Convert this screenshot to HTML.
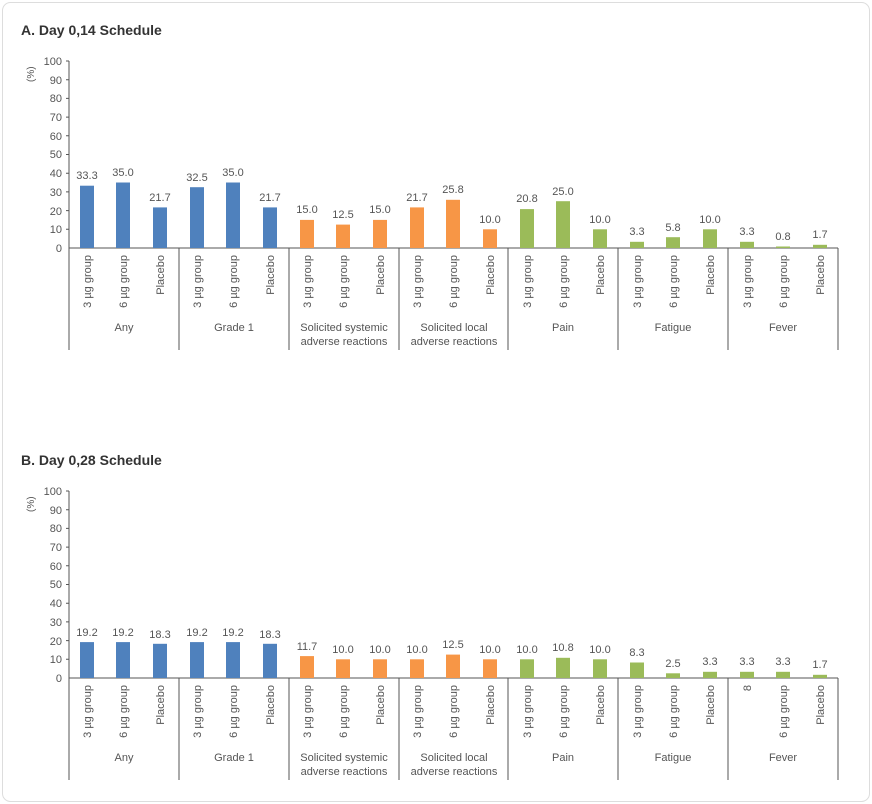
<!DOCTYPE html>
<html><head><meta charset="utf-8"><style>
html,body{margin:0;padding:0;background:#fff}
svg{display:block;font-family:"Liberation Sans",sans-serif}
.t{font-size:11px;fill:#555}
.v{font-size:11px;fill:#555;text-anchor:middle}
.c{font-size:11px;fill:#555;text-anchor:end}
.g{font-size:11px;fill:#555;text-anchor:middle}
.y{font-size:11px;fill:#555;text-anchor:end}
.b{fill:#4F81BD}.o{fill:#F79646}.gr{fill:#9BBB59}
</style></head><body>
<svg width="872" height="804" viewBox="0 0 872 804">
<rect x="2.5" y="2.5" width="867" height="799" rx="8" fill="#fff" stroke="#ddd"/>
<text x="21" y="35" font-size="14" font-weight="bold" fill="#333">A. Day 0,14 Schedule</text>
<text x="21" y="465" font-size="14" font-weight="bold" fill="#333">B. Day 0,28 Schedule</text>

<g id="A">
<g stroke="#555" fill="none">
<path d="M69 61V350M69 248H838M179 248V350M289 248V350M399 248V350M508 248V350M618 248V350M728 248V350M838 248V350"/>
<path d="M66 61H69M66 79.7H69M66 98.4H69M66 117.1H69M66 135.8H69M66 154.5H69M66 173.2H69M66 191.9H69M66 210.6H69M66 229.3H69"/>
</g>
<text class="y" x="62" y="65">100</text><text class="y" x="62" y="84">90</text><text class="y" x="62" y="102">80</text><text class="y" x="62" y="121">70</text><text class="y" x="62" y="140">60</text><text class="y" x="62" y="158">50</text><text class="y" x="62" y="177">40</text><text class="y" x="62" y="196">30</text><text class="y" x="62" y="215">20</text><text class="y" x="62" y="233">10</text><text class="y" x="62" y="252">0</text>
<text class="t" transform="translate(34,82) rotate(-90)" style="font-size:10px">(%)</text>
<rect class="b" x="80" y="185.7" width="14" height="62.3"/><rect class="b" x="116" y="182.5" width="14" height="65.5"/><rect class="b" x="153" y="207.4" width="14" height="40.6"/>
<rect class="b" x="190" y="187.2" width="14" height="60.8"/><rect class="b" x="226" y="182.5" width="14" height="65.5"/><rect class="b" x="263" y="207.4" width="14" height="40.6"/>
<rect class="o" x="300" y="219.9" width="14" height="28.1"/><rect class="o" x="336" y="224.6" width="14" height="23.4"/><rect class="o" x="373" y="219.9" width="14" height="28.1"/>
<rect class="o" x="410" y="207.4" width="14" height="40.6"/><rect class="o" x="446" y="199.8" width="14" height="48.2"/><rect class="o" x="483" y="229.3" width="14" height="18.7"/>
<rect class="gr" x="520" y="209.1" width="14" height="38.9"/><rect class="gr" x="556" y="201.2" width="14" height="46.8"/><rect class="gr" x="593" y="229.3" width="14" height="18.7"/>
<rect class="gr" x="630" y="241.8" width="14" height="6.2"/><rect class="gr" x="666" y="237.2" width="14" height="10.8"/><rect class="gr" x="703" y="229.3" width="14" height="18.7"/>
<rect class="gr" x="740" y="241.8" width="14" height="6.2"/><rect class="gr" x="776" y="246.5" width="14" height="1.5"/><rect class="gr" x="813" y="244.8" width="14" height="3.2"/>
<text class="v" x="87" y="179">33.3</text><text class="v" x="123" y="176">35.0</text><text class="v" x="160" y="201">21.7</text>
<text class="v" x="197" y="181">32.5</text><text class="v" x="233" y="176">35.0</text><text class="v" x="270" y="201">21.7</text>
<text class="v" x="307" y="213">15.0</text><text class="v" x="343" y="218">12.5</text><text class="v" x="380" y="213">15.0</text>
<text class="v" x="417" y="201">21.7</text><text class="v" x="453" y="193">25.8</text><text class="v" x="490" y="223">10.0</text>
<text class="v" x="527" y="202">20.8</text><text class="v" x="563" y="195">25.0</text><text class="v" x="600" y="223">10.0</text>
<text class="v" x="637" y="235">3.3</text><text class="v" x="673" y="231">5.8</text><text class="v" x="710" y="223">10.0</text>
<text class="v" x="747" y="235">3.3</text><text class="v" x="783" y="240">0.8</text><text class="v" x="820" y="238">1.7</text>
<text class="c" transform="translate(91,255) rotate(-90)">3 µg group</text><text class="c" transform="translate(127,255) rotate(-90)">6 µg group</text><text class="c" transform="translate(164,255) rotate(-90)">Placebo</text>
<text class="c" transform="translate(201,255) rotate(-90)">3 µg group</text><text class="c" transform="translate(237,255) rotate(-90)">6 µg group</text><text class="c" transform="translate(274,255) rotate(-90)">Placebo</text>
<text class="c" transform="translate(311,255) rotate(-90)">3 µg group</text><text class="c" transform="translate(347,255) rotate(-90)">6 µg group</text><text class="c" transform="translate(384,255) rotate(-90)">Placebo</text>
<text class="c" transform="translate(421,255) rotate(-90)">3 µg group</text><text class="c" transform="translate(457,255) rotate(-90)">6 µg group</text><text class="c" transform="translate(494,255) rotate(-90)">Placebo</text>
<text class="c" transform="translate(531,255) rotate(-90)">3 µg group</text><text class="c" transform="translate(567,255) rotate(-90)">6 µg group</text><text class="c" transform="translate(604,255) rotate(-90)">Placebo</text>
<text class="c" transform="translate(641,255) rotate(-90)">3 µg group</text><text class="c" transform="translate(677,255) rotate(-90)">6 µg group</text><text class="c" transform="translate(714,255) rotate(-90)">Placebo</text>
<text class="c" transform="translate(751,255) rotate(-90)">3 µg group</text><text class="c" transform="translate(787,255) rotate(-90)">6 µg group</text><text class="c" transform="translate(824,255) rotate(-90)">Placebo</text>
<text class="g" x="124" y="331">Any</text><text class="g" x="234" y="331">Grade 1</text>
<text class="g" x="344" y="331">Solicited systemic</text><text class="g" x="344" y="345">adverse reactions</text>
<text class="g" x="454" y="331">Solicited local</text><text class="g" x="454" y="345">adverse reactions</text>
<text class="g" x="563" y="331">Pain</text><text class="g" x="673" y="331">Fatigue</text><text class="g" x="783" y="331">Fever</text>
</g>

<g transform="translate(0,430)">
<g stroke="#555" fill="none">
<path d="M69 61V350M69 248H838M179 248V350M289 248V350M399 248V350M508 248V350M618 248V350M728 248V350M838 248V350"/>
<path d="M66 61H69M66 79.7H69M66 98.4H69M66 117.1H69M66 135.8H69M66 154.5H69M66 173.2H69M66 191.9H69M66 210.6H69M66 229.3H69"/>
</g>
<text class="y" x="62" y="65">100</text><text class="y" x="62" y="84">90</text><text class="y" x="62" y="102">80</text><text class="y" x="62" y="121">70</text><text class="y" x="62" y="140">60</text><text class="y" x="62" y="158">50</text><text class="y" x="62" y="177">40</text><text class="y" x="62" y="196">30</text><text class="y" x="62" y="215">20</text><text class="y" x="62" y="233">10</text><text class="y" x="62" y="252">0</text>
<text class="t" transform="translate(34,82) rotate(-90)" style="font-size:10px">(%)</text>
<rect class="b" x="80" y="212.1" width="14" height="35.9"/><rect class="b" x="116" y="212.1" width="14" height="35.9"/><rect class="b" x="153" y="213.8" width="14" height="34.2"/>
<rect class="b" x="190" y="212.1" width="14" height="35.9"/><rect class="b" x="226" y="212.1" width="14" height="35.9"/><rect class="b" x="263" y="213.8" width="14" height="34.2"/>
<rect class="o" x="300" y="226.1" width="14" height="21.9"/><rect class="o" x="336" y="229.3" width="14" height="18.7"/><rect class="o" x="373" y="229.3" width="14" height="18.7"/>
<rect class="o" x="410" y="229.3" width="14" height="18.7"/><rect class="o" x="446" y="224.6" width="14" height="23.4"/><rect class="o" x="483" y="229.3" width="14" height="18.7"/>
<rect class="gr" x="520" y="229.3" width="14" height="18.7"/><rect class="gr" x="556" y="227.8" width="14" height="20.2"/><rect class="gr" x="593" y="229.3" width="14" height="18.7"/>
<rect class="gr" x="630" y="232.5" width="14" height="15.5"/><rect class="gr" x="666" y="243.3" width="14" height="4.7"/><rect class="gr" x="703" y="241.8" width="14" height="6.2"/>
<rect class="gr" x="740" y="241.8" width="14" height="6.2"/><rect class="gr" x="776" y="241.8" width="14" height="6.2"/><rect class="gr" x="813" y="244.8" width="14" height="3.2"/>
<text class="v" x="87" y="206">19.2</text><text class="v" x="123" y="206">19.2</text><text class="v" x="160" y="208">18.3</text>
<text class="v" x="197" y="206">19.2</text><text class="v" x="233" y="206">19.2</text><text class="v" x="270" y="208">18.3</text>
<text class="v" x="307" y="220">11.7</text><text class="v" x="343" y="223">10.0</text><text class="v" x="380" y="223">10.0</text>
<text class="v" x="417" y="223">10.0</text><text class="v" x="453" y="218">12.5</text><text class="v" x="490" y="223">10.0</text>
<text class="v" x="527" y="223">10.0</text><text class="v" x="563" y="221">10.8</text><text class="v" x="600" y="223">10.0</text>
<text class="v" x="637" y="226">8.3</text><text class="v" x="673" y="237">2.5</text><text class="v" x="710" y="235">3.3</text>
<text class="v" x="747" y="235">3.3</text><text class="v" x="783" y="235">3.3</text><text class="v" x="820" y="238">1.7</text>
<text class="c" transform="translate(91,255) rotate(-90)">3 µg group</text><text class="c" transform="translate(127,255) rotate(-90)">6 µg group</text><text class="c" transform="translate(164,255) rotate(-90)">Placebo</text>
<text class="c" transform="translate(201,255) rotate(-90)">3 µg group</text><text class="c" transform="translate(237,255) rotate(-90)">6 µg group</text><text class="c" transform="translate(274,255) rotate(-90)">Placebo</text>
<text class="c" transform="translate(311,255) rotate(-90)">3 µg group</text><text class="c" transform="translate(347,255) rotate(-90)">6 µg group</text><text class="c" transform="translate(384,255) rotate(-90)">Placebo</text>
<text class="c" transform="translate(421,255) rotate(-90)">3 µg group</text><text class="c" transform="translate(457,255) rotate(-90)">6 µg group</text><text class="c" transform="translate(494,255) rotate(-90)">Placebo</text>
<text class="c" transform="translate(531,255) rotate(-90)">3 µg group</text><text class="c" transform="translate(567,255) rotate(-90)">6 µg group</text><text class="c" transform="translate(604,255) rotate(-90)">Placebo</text>
<text class="c" transform="translate(641,255) rotate(-90)">3 µg group</text><text class="c" transform="translate(677,255) rotate(-90)">6 µg group</text><text class="c" transform="translate(714,255) rotate(-90)">Placebo</text>
<text class="c" transform="translate(751,255) rotate(-90)">8</text><text class="c" transform="translate(787,255) rotate(-90)">6 µg group</text><text class="c" transform="translate(824,255) rotate(-90)">Placebo</text>
<text class="g" x="124" y="331">Any</text><text class="g" x="234" y="331">Grade 1</text>
<text class="g" x="344" y="331">Solicited systemic</text><text class="g" x="344" y="345">adverse reactions</text>
<text class="g" x="454" y="331">Solicited local</text><text class="g" x="454" y="345">adverse reactions</text>
<text class="g" x="563" y="331">Pain</text><text class="g" x="673" y="331">Fatigue</text><text class="g" x="783" y="331">Fever</text>
</g>
</svg>
</body></html>
